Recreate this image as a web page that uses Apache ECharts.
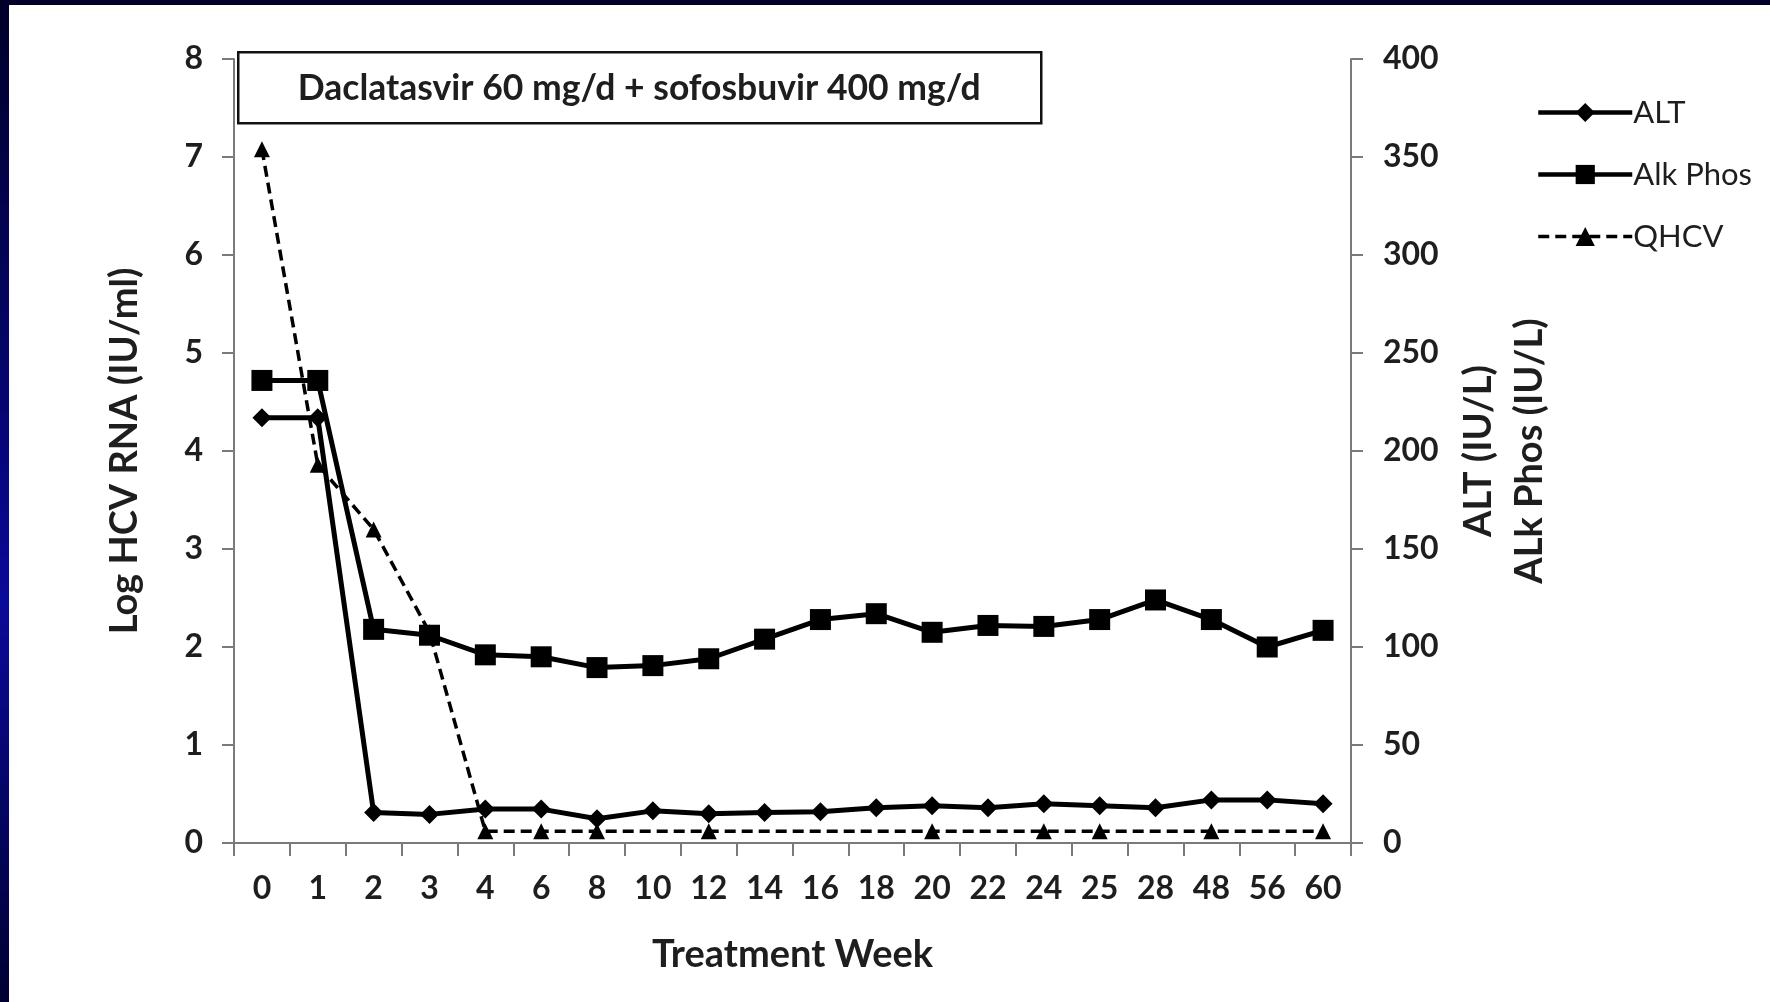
<!DOCTYPE html>
<html>
<head>
<meta charset="utf-8">
<script src="https://cdn.jsdelivr.net/npm/echarts@6/dist/echarts.min.js"></script>
<style>
  html, body { margin: 0; padding: 0; width: 1770px; height: 1002px; overflow: hidden; }
  body { background: linear-gradient(to bottom, #000028 0%, #06067a 45%, #0a0a9a 60%, #000030 100%); position: relative; }
  #paper { position: absolute; left: 9px; top: 5px; width: 1761px; height: 997px; background: #ffffff; }
  #chart { position: absolute; left: 0; top: 0; width: 1770px; height: 1002px; }
</style>
</head>
<body>
<div id="paper"></div>
<div id="chart"></div>
<script>
// ---- Data ----
const weeks = ['0','1','2','3','4','6','8','10','12','14','16','18','20','22','24','25','28','48','56','60'];
const altValues = [217, 217, 15.5, 14.6, 17.3, 17.3, 12.4, 16.4, 14.9, 15.5, 16, 18, 19, 18, 20, 19, 18, 22, 22, 20];
const alkPhosValues = [236, 236, 109, 106, 96, 95, 89.5, 90.5, 94, 104, 114, 117, 107.5, 111, 110.5, 114, 124, 114, 100, 108.5];
const qhcvValues = [7.08, 3.86, 3.2, 2.15, 0.12, 0.12, 0.12, null, 0.12, null, null, null, 0.12, null, 0.12, 0.12, null, 0.12, null, 0.12];
const leftTicks = { min: 0, max: 8, interval: 1 };
const rightTicks = { min: 0, max: 400, interval: 50 };
const titleText = 'Daclatasvir 60 mg/d + sofosbuvir 400 mg/d';

const FONT = 'Lato, "Open Sans", sans-serif';
const chart = echarts.init(document.getElementById('chart'), null, { renderer: 'canvas' });

const axisLineStyle = { color: '#7a7a7a', width: 2 };
const labelStyle = { color: '#1e1e1e', fontSize: 32, fontWeight: 'bold', fontFamily: FONT };
const nameStyle = { color: '#1e1e1e', fontSize: 38, fontWeight: 'bold', fontFamily: FONT };

chart.setOption({
  backgroundColor: 'transparent',
  animation: false,
  grid: { left: 234, right: 419, top: 59, bottom: 159, containLabel: false },
  legend: {
    orient: 'vertical',
    left: 1531,
    top: 92,
    itemWidth: 94,
    itemHeight: 24,
    itemGap: 31,
    textStyle: { color: '#1e1e1e', fontSize: 31, fontFamily: FONT, padding: [0, 0, 0, -4] },
    data: [
      { name: 'ALT', lineStyle: { width: 4.5 } },
      { name: 'Alk Phos', lineStyle: { width: 4.5 } },
      { name: 'QHCV', lineStyle: { width: 3.5 } }
    ]
  },
  xAxis: {
    type: 'category',
    data: weeks,
    boundaryGap: true,
    axisLine: { lineStyle: axisLineStyle },
    axisTick: { show: true, length: 13, alignWithLabel: false, lineStyle: axisLineStyle },
    axisLabel: Object.assign({ margin: 30, interval: 0 }, labelStyle),
    name: 'Treatment Week',
    nameLocation: 'middle',
    nameGap: 93,
    nameTextStyle: nameStyle
  },
  yAxis: [
    {
      type: 'value',
      position: 'left',
      min: leftTicks.min, max: leftTicks.max, interval: leftTicks.interval,
      axisLine: { show: true, lineStyle: axisLineStyle },
      axisTick: { show: true, length: 12, lineStyle: axisLineStyle },
      splitLine: { show: false },
      axisLabel: Object.assign({ margin: 31 }, labelStyle),
      name: 'Log HCV RNA (IU/ml)',
      nameLocation: 'middle',
      nameRotate: 90,
      nameGap: 90,
      nameTextStyle: nameStyle
    },
    {
      type: 'value',
      position: 'right',
      min: rightTicks.min, max: rightTicks.max, interval: rightTicks.interval,
      axisLine: { show: true, lineStyle: axisLineStyle },
      axisTick: { show: true, length: 12, lineStyle: axisLineStyle },
      splitLine: { show: false },
      axisLabel: Object.assign({ margin: 32 }, labelStyle),
      name: 'ALT (IU/L)\nALk Phos (IU/L)',
      nameLocation: 'middle',
      nameRotate: 90,
      nameGap: 102,
      nameTextStyle: Object.assign({}, nameStyle, { lineHeight: 51 })
    }
  ],
  series: [
    {
      name: 'ALT',
      type: 'line',
      yAxisIndex: 1,
      data: altValues,
      symbol: 'diamond',
      symbolSize: 19,
      lineStyle: { color: '#000', width: 5 },
      itemStyle: { color: '#000' },
      z: 3
    },
    {
      name: 'Alk Phos',
      type: 'line',
      yAxisIndex: 1,
      data: alkPhosValues,
      symbol: 'rect',
      symbolSize: 21,
      lineStyle: { color: '#000', width: 5 },
      itemStyle: { color: '#000' },
      z: 4
    },
    {
      name: 'QHCV',
      type: 'line',
      yAxisIndex: 0,
      data: qhcvValues,
      connectNulls: true,
      symbol: 'triangle',
      symbolSize: 16,
      lineStyle: { color: '#000', width: 3.5, type: [11, 6] },
      itemStyle: { color: '#000' },
      z: 2
    }
  ],
  graphic: [
    {
      type: 'group',
      left: 237,
      top: 51,
      children: [
        { type: 'rect', shape: { x: 0, y: 0, width: 803, height: 71 }, style: { fill: '#fff', stroke: '#111', lineWidth: 2.5 } },
        { type: 'text', x: 401, y: 36, style: { text: titleText, fill: '#1e1e1e', font: 'bold 35.5px ' + FONT, textAlign: 'center', textVerticalAlign: 'middle' } }
      ],
      z: 10
    }
  ]
});
</script>
</body>
</html>
